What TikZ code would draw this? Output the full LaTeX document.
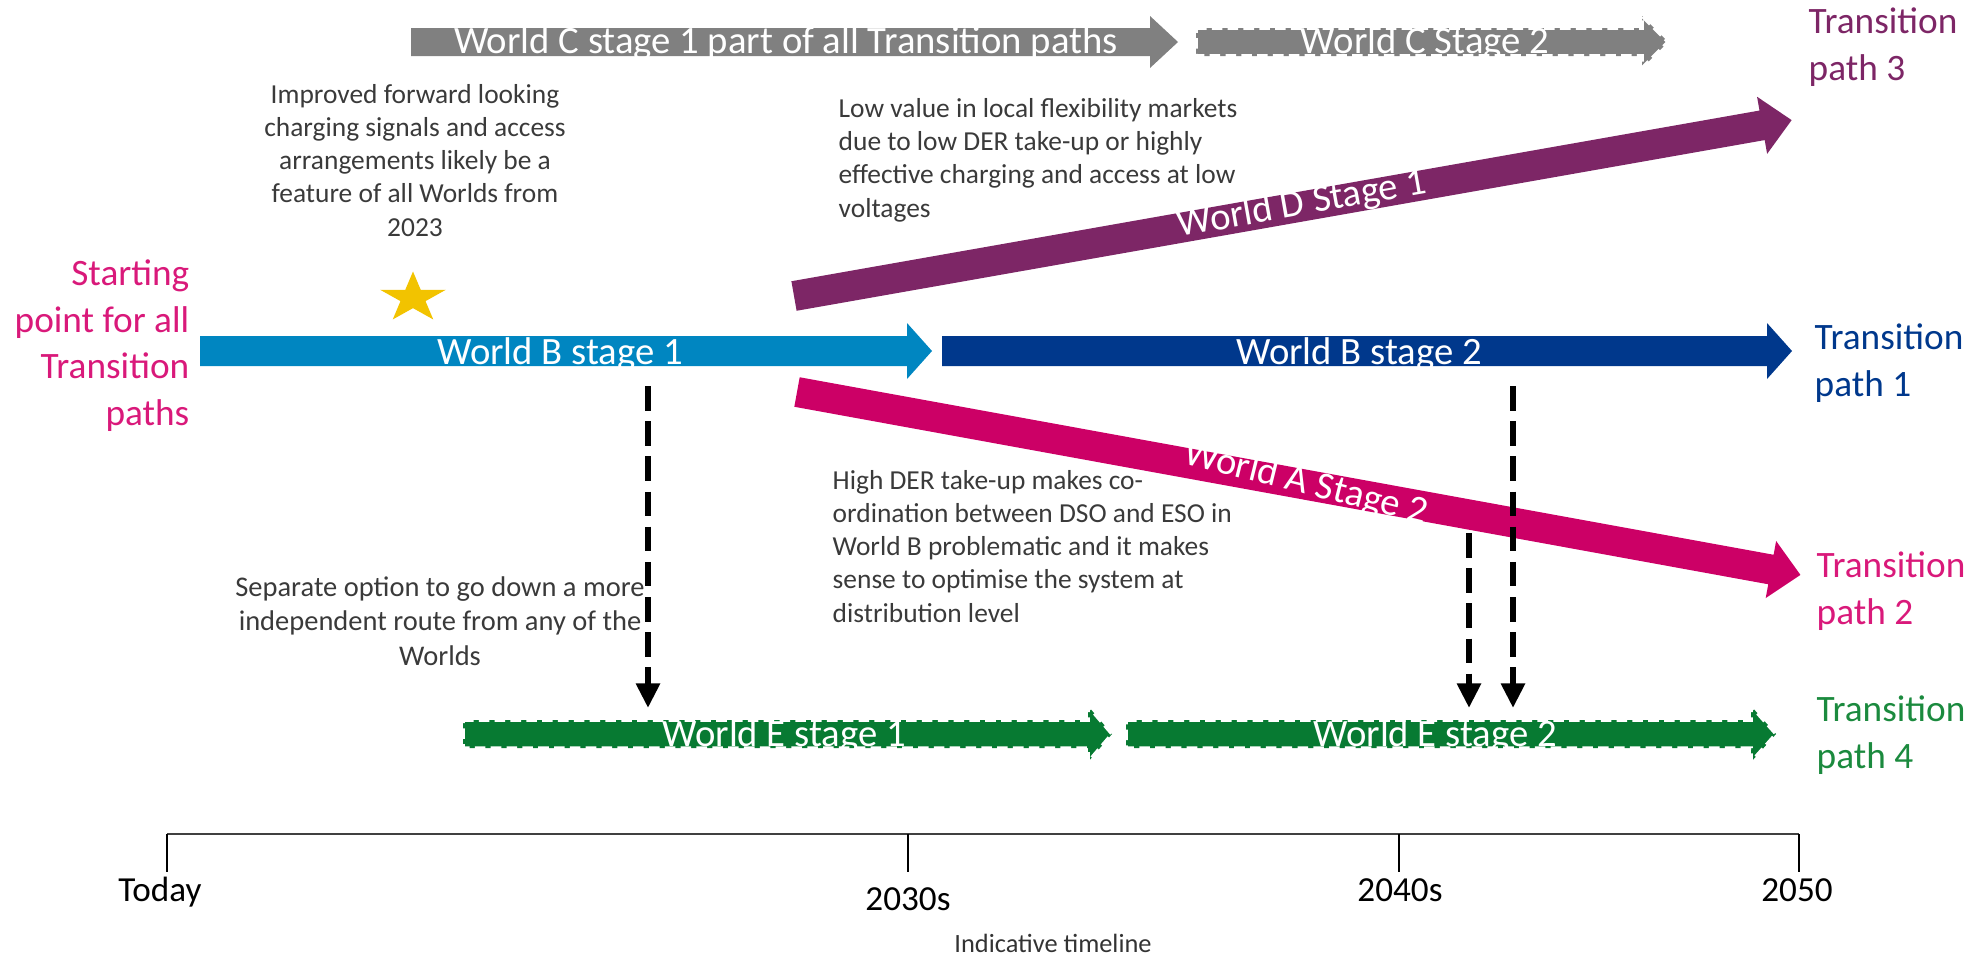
\documentclass[tikz,border=0pt]{standalone}
\usepackage{fontspec}
\setmainfont{Carlito}
\usetikzlibrary{arrows.meta,shapes.geometric}
\definecolor{cgray}{HTML}{808080}
\definecolor{clblue}{HTML}{0086C1}
\definecolor{cdblue}{HTML}{00388C}
\definecolor{cpurple}{HTML}{7D2666}
\definecolor{cmag}{HTML}{CC0066}
\definecolor{cmagtxt}{HTML}{D9197A}
\definecolor{cgreen}{HTML}{077A32}
\definecolor{cgreentxt}{HTML}{1B8A3E}
\definecolor{cstar}{HTML}{F2C300}
\definecolor{ctext}{HTML}{3A3A3A}
\tikzset{
  pics/barrow/.style n args={4}{code={
    \path[pic actions] (0,-#2) -- ({#1-#4},-#2) -- ({#1-#4},-#3) -- (#1,0)
      -- ({#1-#4},#3) -- ({#1-#4},#2) -- (0,#2) -- cycle;
  }},
  dashborder/.style={draw=white, line width=1pt, dash pattern=on 3pt off 1.5pt},
  arrlabel/.style={text=white, font=\fontsize{11}{13}\selectfont, inner sep=0pt},
  pathlabel/.style={font=\fontsize{10.6}{13.2}\selectfont, inner sep=0pt, align=left, anchor=base west},
  note/.style={text=ctext, font=\fontsize{7.8}{9.4}\selectfont, inner sep=0pt},
  blkdash/.style={line width=1.8pt, dash pattern=on 7pt off 3pt, -{Triangle[width=6.5pt,length=7pt]}},
  ticklabel/.style={font=\fontsize{10}{12}\selectfont, inner sep=0pt, anchor=base}
}
\begin{document}
\begin{tikzpicture}[x=0.01cm,y=-0.01cm]
\useasboundingbox (0,0) rectangle (1982,960);

% World C
\pic[fill=cgray] at (411,42) {barrow={767}{14}{26}{28}};
\node[arrlabel] (c1) at (786,43) {World C stage 1 part of all Transition paths};
\pic[fill=cgray, dashborder] at (1196,42) {barrow={472}{14}{26}{26}};
\node[arrlabel] (c2) at (1425,43) {World C Stage 2};

% World B
\pic[fill=clblue] at (200,351) {barrow={732}{15}{28}{25}};
\node[arrlabel] (b1) at (560,354) {World B stage 1};
\pic[fill=cdblue] at (942,351) {barrow={850}{15}{28}{25}};
\node[arrlabel] (b2) at (1359,354) {World B stage 2};

% World D
\pic[fill=cpurple, rotate=10] at (794,296) {barrow={1013}{15}{29}{30}};
\node[arrlabel, rotate=10] (d1) at (1302,205) {World D Stage 1};

% World A
\pic[fill=cmag, rotate=-10.33] at (797,392) {barrow={1020}{15}{29}{30}};
\node[arrlabel, rotate=-14] (a2) at (1306,484) {World A Stage 2};

% World E
\pic[fill=cgreen, dashborder] at (463,734) {barrow={649}{14}{28}{24}};
\node[arrlabel] (e1) at (784,736) {World E stage 1};
\pic[fill=cgreen, dashborder] at (1126,734) {barrow={650}{14}{28}{25}};
\node[arrlabel] (e2) at (1435,736) {World E stage 2};

% star
\node[star, star points=5, star point ratio=2.618, fill=cstar, inner sep=0pt,
      minimum size=0.53cm, xscale=1.3, transform shape] (star) at (413,298) {};

% labels (anchored at the baseline of the last line)
\node[pathlabel, text=cmagtxt, align=right, anchor=base east] (start) at (190,425)
  {Starting\\point for all\\Transition\\paths};
\node[pathlabel, text=cpurple] (tp3) at (1808,80) {Transition\\path 3};
\node[pathlabel, text=cdblue] (tp1) at (1814,396) {Transition\\path 1};
\node[pathlabel, text=cmagtxt] (tp2) at (1816,624) {Transition\\path 2};
\node[pathlabel, text=cgreentxt] (tp4) at (1816,768) {Transition\\path 4};

% notes
\node[note, align=center, anchor=base] (n1) at (415,236)
  {Improved forward looking\\charging signals and access\\arrangements likely be a\\feature of all Worlds from\\2023};
\node[note, align=left, anchor=base west] (n2) at (838,217)
  {Low value in local flexibility markets\\due to low DER take-up or highly\\effective charging and access at low\\voltages};
\node[note, align=left, anchor=base west] (n3) at (832,622)
  {High DER take-up makes co-\\ordination between DSO and ESO in\\World B problematic and it makes\\sense to optimise the system at\\distribution level};
\node[note, align=center, anchor=base, font=\fontsize{8.1}{9.8}\selectfont] (n4) at (440,665)
  {Separate option to go down a more\\independent route from any of the\\Worlds};

% dashed black arrows
\coordinate (s1) at (648,386);
\coordinate (t1) at (648,708);
\coordinate (s2) at (1513,386);
\coordinate (t2) at (1513,708);
\coordinate (s3) at (1469,533);
\coordinate (t3) at (1469,708);
\draw[blkdash] (s1) -- (t1);
\draw[blkdash] (s2) -- (t2);
\draw[blkdash] (s3) -- (t3);

% timeline
\coordinate (tl0) at (167,834);
\coordinate (tl1) at (908,834);
\coordinate (tl2) at (1399,834);
\coordinate (tl3) at (1799,834);
\draw[line width=0.8pt, draw=black!75] (tl0) -- (tl3);
\foreach \c in {tl0,tl1,tl2,tl3}{\draw[line width=0.4pt] (\c) -- ++(0,38);}
\node[ticklabel] (today) at (160,901) {Today};
\node[ticklabel] (y2030) at (908,910) {2030s};
\node[ticklabel] (y2040) at (1400,901) {2040s};
\node[ticklabel] (y2050) at (1797,901) {2050};
\node[note, text=black!80, font=\fontsize{7.5}{9}\selectfont] (itl) at (1053,943) {Indicative timeline};
\end{tikzpicture}
\end{document}
